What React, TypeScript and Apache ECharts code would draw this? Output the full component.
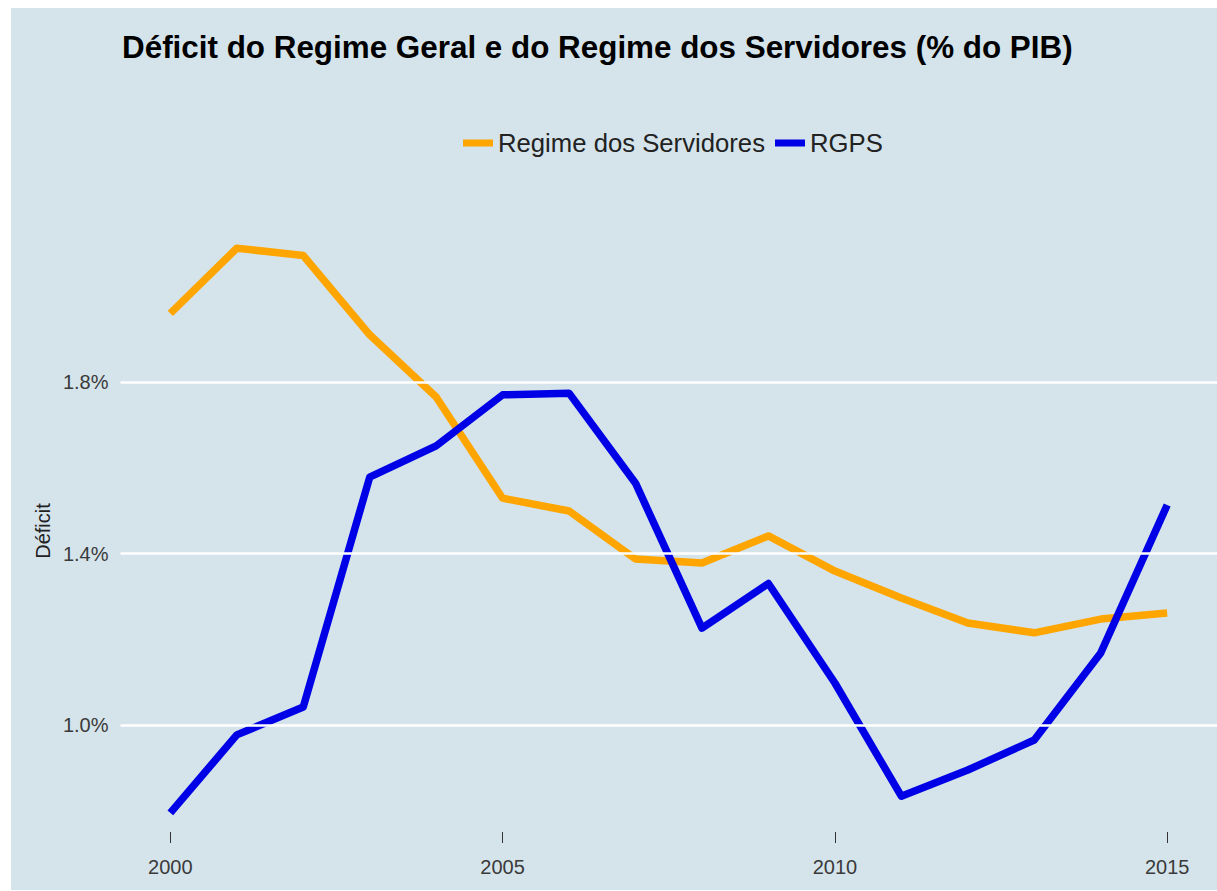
import React, { useEffect, useRef } from "react";
import * as echarts from "echarts";

const years = [2000, 2001, 2002, 2003, 2004, 2005, 2006, 2007, 2008, 2009, 2010, 2011, 2012, 2013, 2014, 2015];
const servidores = [1.96, 2.112, 2.095, 1.91, 1.765, 1.529, 1.499, 1.387, 1.378, 1.441, 1.359, 1.296, 1.238, 1.215, 1.247, 1.261];
const rgps = [0.795, 0.977, 1.042, 1.578, 1.651, 1.77, 1.774, 1.564, 1.226, 1.33, 1.098, 0.834, 0.895, 0.965, 1.168, 1.513];
const xTicks = [2000, 2005, 2010, 2015];
const yTicks = [1.0, 1.4, 1.8];
const seriesNames = ["Regime dos Servidores", "RGPS"];
const titleText = "Déficit do Regime Geral e do Regime dos Servidores (% do PIB)";
const yTitle = "Déficit";

const FONT = "'Liberation Sans', Arial, sans-serif";

export default function App() {
  const ref = useRef<HTMLDivElement>(null);
  useEffect(() => {
    if (!ref.current) return;
    const chart = echarts.init(ref.current, undefined, { renderer: "svg" });
    const option: any = {
      animation: false,
      backgroundColor: "#ffffff",
      graphic: [
        { type: "rect", z: -10, silent: true, shape: { x: 11, y: 8, width: 1206, height: 882 }, style: { fill: "#d5e4eb" } },
        { type: "text", x: 122, y: 47, style: { text: titleText, font: `bold 31.4px ${FONT}`, fill: "#000000", textAlign: "left", textVerticalAlign: "middle" } },
        { type: "text", x: 43, y: 531, rotation: Math.PI / 2, style: { text: yTitle, font: `20px ${FONT}`, fill: "#222222", textAlign: "center", textVerticalAlign: "middle" } },
      ],
      legend: {
        data: seriesNames,
        left: 463,
        top: 130,
        padding: 0,
        icon: "rect",
        itemWidth: 30,
        itemHeight: 7,
        itemGap: 10,
        textStyle: { fontFamily: FONT, fontSize: 25.7, color: "#222222" },
      },
      grid: { left: 120.5, right: 0, top: 218, bottom: 48, containLabel: false },
      xAxis: {
        type: "value",
        min: 1999.25,
        max: 2015.75,
        axisLine: { show: false },
        splitLine: { show: false },
        axisTick: { show: true, inside: true, length: 11, customValues: xTicks, lineStyle: { color: "#333333", width: 1 } },
        axisLabel: { customValues: xTicks, margin: 14, fontFamily: FONT, fontSize: 20, color: "#3a3a3a", formatter: (v: number) => String(v) },
      },
      yAxis: {
        type: "value",
        min: 0.7248,
        max: 2.1825,
        axisLine: { show: false },
        axisTick: { show: false },
        splitLine: { show: false },
        axisLabel: { customValues: yTicks, margin: 12, fontFamily: FONT, fontSize: 20, color: "#3a3a3a", formatter: (v: number) => v.toFixed(1) + "%" },
      },
      series: [
        {
          name: "grid",
          type: "line",
          data: years.map((y, i) => [y, servidores[i]]),
          lineStyle: { opacity: 0 },
          showSymbol: false,
          silent: true,
          z: 1,
          markLine: {
            silent: true,
            symbol: ["none", "none"],
            label: { show: false },
            lineStyle: { color: "#ffffff", width: 2.5, type: "solid" },
            data: yTicks.map((v) => ({ yAxis: v })),
          },
        },
        {
          name: seriesNames[0],
          type: "line",
          data: years.map((y, i) => [y, servidores[i]]),
          showSymbol: false,
          z: 3,
          itemStyle: { color: "#FFA500" },
          lineStyle: { color: "#FFA500", width: 7.5, join: "round" },
        },
        {
          name: seriesNames[1],
          type: "line",
          data: years.map((y, i) => [y, rgps[i]]),
          showSymbol: false,
          z: 4,
          itemStyle: { color: "#0000E6" },
          lineStyle: { color: "#0000E6", width: 7.5, join: "round" },
        },
      ],
    };
    chart.setOption(option);
    return () => chart.dispose();
  }, []);
  return <div ref={ref} style={{ position: "absolute", left: 0, top: 0, width: 1217, height: 891 }} />;
}
